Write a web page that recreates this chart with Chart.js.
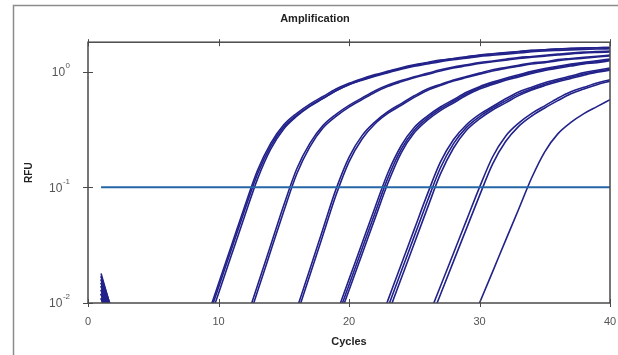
<!DOCTYPE html>
<html><head><meta charset="utf-8">
<script src="https://cdn.jsdelivr.net/npm/chart.js@4.4.0/dist/chart.umd.min.js"></script>
<style>html,body{margin:0;padding:0;background:#fff;}canvas{display:block;}</style>
</head><body>
<canvas id="c" width="618" height="355"></canvas>
<script>
const cycles = [1,2,3,4,5,6,7,8,9,10,11,12,13,14,15,16,17,18,19,20,21,22,23,24,25,26,27,28,29,30,31,32,33,34,35,36,37,38,39,40];
const xTicks = [0, 10, 20, 30, 40];
const yTickValues = [0.01, 0.1, 1];
const yTickExponents = ['-2', '-1', '0'];
const thresholdRFU = 0.1;
const thresholdCycles = [1, 40];

const g1a = [0.018,0.0072, null,null,null,null,null,null, 0.0068,0.0147,0.0316,0.0681,0.141,0.240,0.347,0.437,0.525,0.610,0.708,0.794,0.871,0.944,1.012,1.084,1.148,1.202,1.259,1.303,1.349,1.396,1.429,1.462,1.496,1.531,1.549,1.574,1.592,1.603,1.614,1.622];
const g1b = [0.016,0.0065, null,null,null,null,null,null, 0.0063,0.0136,0.0293,0.0631,0.131,0.227,0.332,0.421,0.507,0.589,0.685,0.771,0.845,0.916,0.982,1.052,1.114,1.167,1.222,1.268,1.309,1.358,1.387,1.419,1.452,1.486,1.514,1.531,1.545,1.556,1.570,1.578];
const g1c = [0.014,0.0060, null,null,null,null,null,null, 0.0056,0.0121,0.0261,0.0562,0.119,0.214,0.320,0.412,0.501,0.585,0.684,0.776,0.851,0.928,0.994,1.065,1.135,1.189,1.245,1.296,1.334,1.388,1.421,1.454,1.488,1.522,1.549,1.570,1.589,1.600,1.611,1.622];
const g2a = [0.017,0.0070, null,null,null,null,null,null,null,null,null, 0.0065,0.0143,0.0316,0.0700,0.145,0.240,0.342,0.428,0.512,0.593,0.685,0.766,0.838,0.906,0.968,1.038,1.096,1.146,1.199,1.239,1.282,1.327,1.355,1.387,1.419,1.452,1.476,1.493,1.507];
const g2b = [0.012,0.0055, null,null,null,null,null,null,null,null,null, 0.0057,0.0127,0.0281,0.0621,0.131,0.224,0.326,0.411,0.494,0.574,0.665,0.748,0.818,0.887,0.948,1.014,1.076,1.125,1.178,1.219,1.259,1.303,1.334,1.365,1.396,1.426,1.452,1.469,1.483];
const g3a = [0.015,0.0068, null,null,null,null,null,null,null,null,null,null,null,null,null, 0.0089,0.0196,0.0435,0.0961,0.182,0.280,0.369,0.453,0.530,0.619,0.710,0.776,0.849,0.910,0.973,1.040,1.089,1.138,1.191,1.219,1.274,1.303,1.334,1.361,1.393];
const g3b = [0.013,0.0062, null,null,null,null,null,null,null,null,null,null,null,null,null, 0.0079,0.0174,0.0385,0.0853,0.166,0.262,0.355,0.438,0.513,0.600,0.689,0.759,0.830,0.891,0.953,1.016,1.069,1.117,1.167,1.199,1.247,1.282,1.309,1.340,1.371];
const g4a = [0.011,0.0050, null,null,null,null,null,null,null,null,null,null,null,null,null,null,null,null, 0.0078,0.0160,0.0328,0.0673,0.135,0.229,0.329,0.413,0.495,0.573,0.664,0.743,0.813,0.879,0.940,1.007,1.064,1.114,1.164,1.205,1.245,1.288];
const g4b = [0.016,0.0074, null,null,null,null,null,null,null,null,null,null,null,null,null,null,null,null, 0.0070,0.0143,0.0294,0.0604,0.122,0.213,0.312,0.396,0.478,0.555,0.644,0.726,0.793,0.861,0.920,0.984,1.045,1.094,1.143,1.186,1.222,1.268];
const g4c = [0.014,0.0066, null,null,null,null,null,null,null,null,null,null,null,null,null,null,null,null, 0.0063,0.0129,0.0264,0.0542,0.110,0.199,0.296,0.381,0.461,0.537,0.625,0.710,0.774,0.843,0.902,0.964,1.026,1.072,1.119,1.167,1.197,1.247];
const g5a = [0.012,0.0058, null,null,null,null,null,null,null,null,null,null,null,null,null,null,null,null,null,null,null, 0.0053,0.0107,0.0215,0.0433,0.0869,0.165,0.258,0.348,0.428,0.500,0.583,0.668,0.735,0.802,0.861,0.918,0.982,1.030,1.076];
const g5b = [0.017,0.0076, null,null,null,null,null,null,null,null,null,null,null,null,null,null,null,null,null,null,null, 0.0046,0.0093,0.0187,0.0377,0.0757,0.147,0.238,0.330,0.409,0.484,0.560,0.643,0.713,0.778,0.838,0.895,0.955,1.007,1.050];
const g5c = [0.013,0.0061, null,null,null,null,null,null,null,null,null,null,null,null,null,null,null,null,null,null,null, 0.0040,0.0081,0.0163,0.0327,0.0658,0.130,0.218,0.312,0.391,0.467,0.538,0.621,0.695,0.759,0.820,0.875,0.933,0.989,1.030];
const g6a = [0.011,0.0052, null,null,null,null,null,null,null,null,null,null,null,null,null,null,null,null,null,null,null,null,null,null,null, 0.0072,0.0139,0.0268,0.0518,0.100,0.183,0.277,0.359,0.436,0.507,0.590,0.671,0.733,0.798,0.853];
const g6b = [0.015,0.0069, null,null,null,null,null,null,null,null,null,null,null,null,null,null,null,null,null,null,null,null,null,null,null, 0.0061,0.0118,0.0228,0.0440,0.0849,0.159,0.249,0.337,0.414,0.486,0.562,0.644,0.710,0.773,0.830];
const g7  = [0.012,0.0057, null,null,null,null,null,null,null,null,null,null,null,null,null,null,null,null,null,null,null,null,null,null,null,null,null,null, 0.0054,0.0100,0.0186,0.0348,0.0647,0.121,0.203,0.290,0.364,0.434,0.499,0.573];

const curves = [g1a, g1b, g1c, g2a, g2b, g3a, g3b, g4a, g4b, g4c, g5a, g5b, g5c, g6a, g6b, g7];
const FONT = '"Liberation Sans", Arial, Helvetica, sans-serif';
const CURVE_COLOR = '#22228a';

const datasets = [{
  data: thresholdCycles.map(c => ({x: c, y: thresholdRFU})),
  borderColor: '#2466a6', borderWidth: 2, pointRadius: 0, order: 0
}];
curves.forEach(arr => datasets.push({
  data: arr, borderColor: CURVE_COLOR, borderWidth: 1.6, pointRadius: 0,
  cubicInterpolationMode: 'monotone', spanGaps: false, order: 1
}));

const decor = {
  id: 'decor',
  beforeDraw(chart) {
    const ctx = chart.ctx;
    ctx.save();
    ctx.strokeStyle = '#8c8c8c'; ctx.lineWidth = 1.5;
    ctx.beginPath(); ctx.moveTo(13.5, 400); ctx.lineTo(13.5, 5.5); ctx.lineTo(700, 5.5); ctx.stroke();
    ctx.restore();
  },
  afterDraw(chart) {
    const {ctx, chartArea: a, scales: {x, y}} = chart;
    ctx.save();
    ctx.strokeStyle = '#4a4a4a'; ctx.lineWidth = 1.5;
    ctx.strokeRect(a.left, a.top, a.right - a.left, a.bottom - a.top);
    ctx.lineWidth = 1;
    const ln = (x1, y1, x2, y2) => { ctx.beginPath(); ctx.moveTo(x1, y1); ctx.lineTo(x2, y2); ctx.stroke(); };
    xTicks.forEach(v => {
      const px = Math.round(x.getPixelForValue(v)) + 0.5;
      ln(px, a.bottom - 4, px, a.bottom + 4);
      ln(px, a.top - 3, px, a.top + 4);
    });
    yTickValues.forEach(v => {
      const py = Math.round(y.getPixelForValue(v)) + 0.5;
      ln(a.left - 5, py, a.left + 5, py);
    });
    ctx.fillStyle = '#555';
    ctx.textAlign = 'right'; ctx.textBaseline = 'middle';
    yTickValues.forEach((v, i) => {
      const py = y.getPixelForValue(v);
      ctx.font = '8px ' + FONT;
      const ew = ctx.measureText(yTickExponents[i]).width;
      ctx.fillText(yTickExponents[i], 70, py - 6);
      ctx.font = '12px ' + FONT;
      ctx.fillText('10', 70 - ew - 0.5, py + 1);
    });
    ctx.restore();
  }
};

new Chart(document.getElementById('c'), {
  type: 'line',
  data: {labels: cycles, datasets},
  options: {
    responsive: false, animation: false, devicePixelRatio: 1,
    layout: {padding: {left: 20, right: 8, top: 0, bottom: 0}},
    plugins: {
      legend: {display: false}, tooltip: {enabled: false},
      title: {display: true, text: 'Amplification', color: '#222',
        font: {family: FONT, size: 11, weight: 'bold'}, padding: {top: 12, bottom: 17}}
    },
    scales: {
      x: {
        type: 'linear', min: 0, max: 40,
        grid: {display: false, drawTicks: false}, border: {display: false},
        ticks: {stepSize: 10, color: '#555', font: {family: FONT, size: 11}, padding: 12, maxRotation: 0},
        title: {display: true, text: 'Cycles', color: '#222', font: {family: FONT, size: 11, weight: 'bold'}, padding: {top: 0, bottom: 6}},
        afterBuildTicks: s => { s.ticks = xTicks.map(v => ({value: v})); },
        afterFit: s => { s.height = 52; s.paddingLeft = 0; s.paddingRight = 0; }
      },
      y: {
        type: 'logarithmic', min: 0.01, max: 1.8,
        grid: {display: false, drawTicks: false}, border: {display: false},
        ticks: {display: false},
        title: {display: true, text: 'RFU', color: '#222', font: {family: FONT, size: 10, weight: 'bold'}, padding: {top: 3, bottom: 0}},
        afterBuildTicks: s => { s.ticks = yTickValues.map(v => ({value: v})); },
        afterFit: s => { s.width = 68; s.paddingTop = 0; s.paddingBottom = 0; }
      }
    }
  },
  plugins: [decor]
});
</script>
</body></html>
